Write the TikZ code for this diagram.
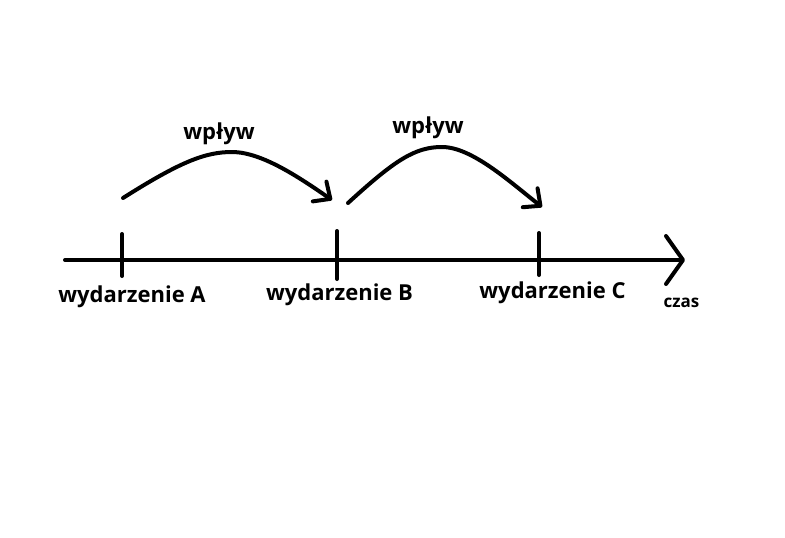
\documentclass[tikz,border=0pt]{standalone}
\usepackage{fontspec}
\setmainfont{Open Sans}
\usetikzlibrary{arrows.meta}
\begin{document}
\begin{tikzpicture}[x=1pt,y=-1pt,
  line/.style={line width=4pt,line cap=round,line join=round},
  lbl/.style={anchor=base,inner sep=0pt,font=\fontsize{22}{26}\selectfont\bfseries},
  small/.style={anchor=base,inner sep=0pt,font=\fontsize{17}{20}\selectfont\bfseries},
  barb/.style={-{Straight Barb[length=17pt,width=48pt,line cap=round,line join=round]}},
  cbarb/.style={-{Straight Barb[length=13pt,width=24pt,line cap=round,line join=round]}}]
\useasboundingbox (0,0) rectangle (785,538);
% axis
\coordinate (start) at (65,260);
\coordinate (end) at (685,260);
\draw[line,barb] (start) -- (end);
% ticks
\coordinate (tA1) at (122,234); \coordinate (tA2) at (122,276);
\coordinate (tB1) at (337,231); \coordinate (tB2) at (337,279);
\coordinate (tC1) at (539,233); \coordinate (tC2) at (539,275);
\draw[line] (tA1) -- (tA2);
\draw[line] (tB1) -- (tB2);
\draw[line] (tC1) -- (tC2);
% labels
\node[lbl] (la) at (132,302) {wydarzenie A};
\node[lbl] (lb) at (339.5,300) {wydarzenie B};
\node[lbl] (lc) at (552.5,298) {wydarzenie C};
\node[small] (lt) at (681.5,307) {czas};
% curves
\coordinate (c1s) at (123,198);
\coordinate (c1e) at (332,200);
\coordinate (c2s) at (348,203);
\coordinate (c2e) at (542,207);
\draw[line,cbarb] (c1s) .. controls (180,162) and (205,152) .. (232,152)
   .. controls (262,152) and (300,178) .. (c1e);
\draw[line,cbarb] (c2s) .. controls (395,160) and (415,147) .. (442,147)
   .. controls (472,147) and (510,182) .. (c2e);
\node[lbl] (w1) at (219,139) {wpływ};
\node[lbl] (w2) at (428,133) {wpływ};
\end{tikzpicture}
\end{document}
